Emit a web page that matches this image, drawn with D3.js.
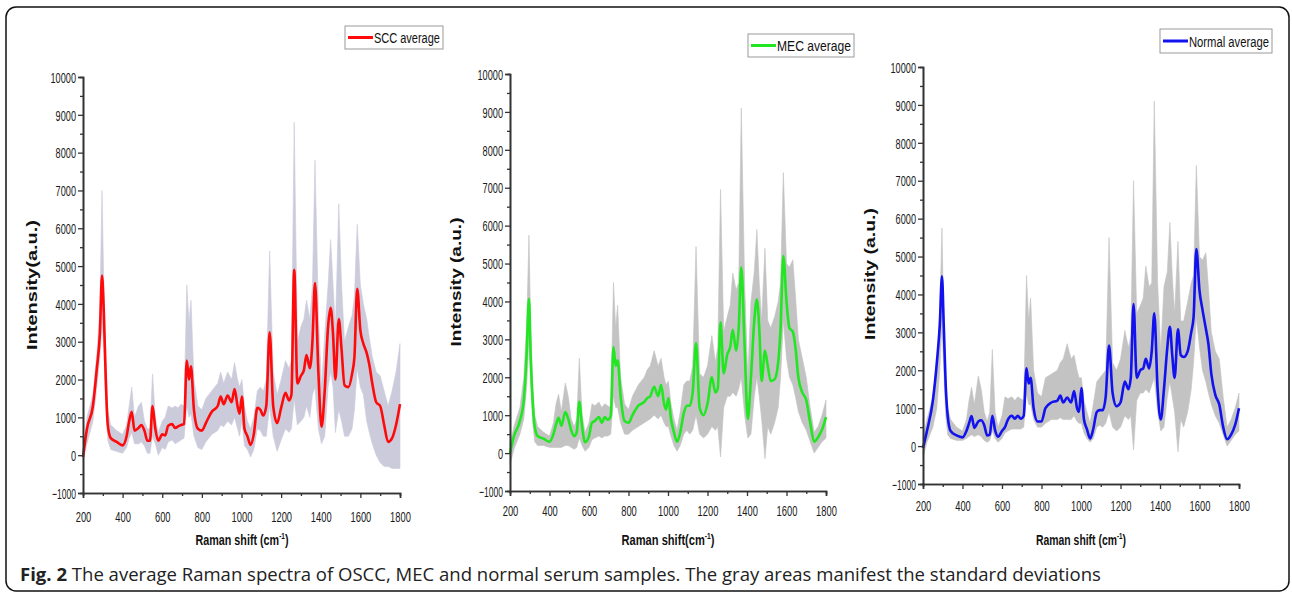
<!DOCTYPE html>
<html>
<head>
<meta charset="utf-8">
<script src="https://cdn.jsdelivr.net/npm/d3@7"></script>
<style>
    body { margin: 0; background: #fff; }
    svg { display: block; }
</style>
</head>
<body>
<svg id="figura" width="1292" height="594"></svg>
<script>
// ------------------DATA------------------
// Raman shift grid (cm-1) shared by the three spectra
var ramanShift = [
    200, 220, 250, 270, 285, 296, 305, 315, 325, 340, 370, 400, 420, 433,
    446, 460, 480, 495, 510, 525, 538, 551, 565, 580, 600, 615, 630, 650,
    665, 680, 695, 710, 724, 735, 745, 760, 780, 800, 820, 850, 880, 895,
    910, 930, 950, 965, 980, 990, 1002, 1015, 1030, 1046, 1062, 1080, 1095, 1110,
    1125, 1142, 1160, 1180, 1200, 1222, 1240, 1252, 1266, 1282, 1300, 1315, 1328, 1345,
    1358, 1371, 1388, 1404, 1420, 1437, 1450, 1462, 1474, 1491, 1505, 1520, 1540, 1558,
    1570, 1584, 1600, 1615, 1632, 1645, 1660, 1680, 1700, 1720, 1740, 1760, 1780, 1800
];

// SCC average and mean +/- standard deviation
var sccMean = [
    -50, 700, 1300, 2300, 3200, 4750, 3800, 2000, 800, 450, 350, 260, 500, 900,
    1150, 650, 720, 800, 650, 380, 380, 1300, 700, 380, 550, 520, 780, 820,
    720, 760, 800, 820, 2500, 2000, 2350, 1200, 700, 650, 850, 1150, 1300, 1550,
    1350, 1580, 1400, 1750, 1300, 1100, 1550, 700, 500, 270, 550, 1250, 1200, 1050,
    1300, 3250, 1300, 850, 1250, 1650, 1450, 1600, 4900, 1900, 2100, 2250, 2650, 2300,
    3000, 4550, 2200, 750, 1700, 3400, 3900, 3200, 2000, 3600, 2800, 1850, 1800, 2150,
    2600, 4400, 3300, 2950, 2700, 2400, 1900, 1400, 1300, 800, 350, 450, 800, 1350
];
var sccUpper = [
    100, 1000, 1600, 2700, 3800, 7000, 4500, 2600, 1200, 800, 650, 550, 800, 1300,
    1800, 1000, 1300, 1400, 900, 700, 700, 2150, 1000, 600, 900, 1000, 1300, 1250,
    1300, 1250, 1350, 1300, 4500, 3500, 4100, 2000, 1300, 1200, 1500, 1700, 1900, 2200,
    1900, 2200, 2000, 2450, 2000, 1800, 2000, 1300, 900, 700, 1000, 1700, 1800, 1700,
    2000, 5400, 2200, 1600, 2000, 2500, 2300, 2500, 8800, 3000, 3400, 3600, 4100, 3600,
    4500, 7800, 3800, 1800, 3200, 4500, 5700, 4500, 3300, 6650, 4500, 3000, 3400, 3700,
    4200, 6100, 4500, 4000, 3600, 3100, 2600, 2200, 2100, 1700, 1300, 1700, 2200, 2950
];
var sccLower = [
    -150, 300, 900, 1800, 2600, 3500, 2800, 1300, 400, 150, 100, 50, 200, 450,
    600, 300, 300, 350, 250, 50, 50, 500, 300, 0, 200, 150, 350, 400,
    300, 350, 400, 450, 1300, 1000, 1100, 500, 200, 150, 350, 550, 650, 800,
    750, 900, 800, 1000, 700, 500, 900, 250, 150, -50, 150, 700, 650, 500,
    500, 1300, 500, 100, 400, 700, 600, 700, 1500, 800, 900, 1000, 1300, 1000,
    1600, 1800, 700, 300, 500, 1800, 2200, 1800, 600, 1200, 900, 500, 500, 700,
    1200, 2300, 1800, 1600, 900, 600, 300, 0, -200, -300, -300, -350, -350, -350
];

// MEC average and mean +/- standard deviation
var mecMean = [
    0, 450, 850, 1400, 2700, 4070, 2500, 1350, 700, 450, 380, 300, 500, 750,
    930, 720, 1080, 900, 600, 450, 550, 1350, 700, 290, 450, 800, 850, 950,
    800, 950, 880, 980, 2800, 2300, 2450, 1500, 850, 800, 1000, 1250, 1350, 1450,
    1500, 1750, 1500, 1800, 1300, 1150, 1450, 900, 550, 300, 550, 1050, 1250, 1250,
    1600, 2900, 1200, 1000, 1300, 2000, 1600, 1700, 3450, 2100, 2600, 2800, 3250, 2700,
    3300, 4900, 2800, 900, 2000, 3500, 4050, 3300, 1900, 2700, 2300, 1900, 1950, 2400,
    3300, 5200, 4000, 3300, 3200, 2800, 2000, 1600, 1400, 800, 300, 420, 620, 950
];
var mecUpper = [
    250, 700, 1200, 2000, 3500, 5750, 3300, 1800, 1000, 700, 550, 450, 800, 1300,
    1550, 1100, 1850, 1500, 900, 700, 900, 2500, 1000, 550, 800, 1300, 1250, 1350,
    1200, 1300, 1250, 1200, 4500, 3300, 3900, 2000, 1300, 1150, 1500, 1800, 2000, 2200,
    2300, 2700, 2300, 2500, 2000, 1800, 1900, 1300, 900, 600, 1100, 1800, 1900, 1900,
    2300, 5450, 2100, 2000, 2300, 3100, 2400, 2800, 6950, 3200, 3600, 3900, 4750, 4300,
    4500, 9100, 4500, 2000, 4000, 4800, 5900, 4500, 3500, 5400, 3500, 3300, 3600, 4000,
    4500, 7400, 5000, 4900, 5100, 4200, 3000, 2500, 2000, 1200, 550, 700, 1000, 1400
];
var mecLower = [
    -300, 100, 500, 900, 1800, 3000, 1800, 800, 300, 200, 200, 150, 150, 150,
    150, 150, 200, 200, 150, 100, 150, 400, 200, 50, 150, 350, 400, 450,
    400, 450, 450, 500, 1500, 1200, 1200, 800, 500, 500, 600, 700, 800, 850,
    900, 1000, 900, 1000, 800, 700, 700, 450, 200, 50, 200, 500, 600, 500,
    600, 1000, 500, 400, 500, 700, 600, 700, -100, 1200, 1500, 1500, 1600, 1500,
    1700, 2000, 1000, 400, 500, 1500, 2000, 1500, 900, -150, 700, 500, 800, 1200,
    2000, 3500, 2500, 2000, 1800, 1500, 1100, 800, 600, 300, 0, 150, 300, 400
];

// Normal average and mean +/- standard deviation
var normalMean = [
    -50, 400, 1200, 2200, 3200, 4480, 3200, 1600, 800, 400, 280, 230, 400, 600,
    790, 480, 650, 680, 550, 280, 300, 800, 420, 250, 400, 500, 700, 800,
    720, 800, 720, 800, 2050, 1650, 1800, 1000, 650, 650, 1000, 1150, 1200, 1330,
    1150, 1280, 1150, 1450, 1000, 900, 1530, 700, 450, 200, 450, 900, 950, 950,
    1300, 2650, 1400, 1050, 1150, 1700, 1500, 1800, 3750, 1800, 2000, 2050, 2300, 2050,
    2500, 3500, 1500, 700, 1500, 2600, 3150, 2400, 1800, 3080, 2400, 2350, 2500, 3000,
    3400, 5200, 4100, 3600, 3100, 2700, 1900, 1350, 1100, 500, 180, 300, 550, 1000
];
var normalUpper = [
    250, 700, 1300, 2200, 3500, 5750, 3300, 1800, 1000, 700, 500, 400, 700, 1200,
    1550, 1100, 1850, 1500, 900, 650, 900, 2550, 900, 500, 800, 1300, 1250, 1300,
    1200, 1300, 1250, 1200, 4500, 3300, 3900, 2000, 1400, 1300, 1800, 1900, 2000, 2200,
    2300, 2700, 2300, 2400, 2000, 1800, 1800, 1200, 900, 600, 1100, 1700, 1800, 1900,
    2000, 5500, 2200, 2000, 2300, 3050, 2600, 2900, 7000, 3500, 3700, 3900, 4750, 4200,
    4300, 9100, 4300, 2500, 4200, 4600, 5900, 4500, 3500, 5400, 3300, 3300, 3800, 4300,
    4500, 7400, 5000, 4900, 5100, 4200, 3000, 2500, 2300, 1300, 500, 700, 1000, 1400
];
var normalLower = [
    -300, 100, 500, 1000, 2000, 3200, 2000, 800, 300, 200, 150, 150, 200, 250,
    300, 250, 300, 250, 150, 100, 150, 400, 200, 100, 200, 350, 400, 450,
    450, 450, 450, 500, 1400, 1100, 1100, 700, 500, 500, 600, 700, 700, 750,
    700, 700, 700, 800, 650, 600, 600, 350, 200, 100, 200, 500, 550, 500,
    600, 900, 500, 400, 500, 800, 700, 800, -100, 1200, 1400, 1400, 1500, 1400,
    1600, 1800, 900, 400, 500, 1300, 1700, 1300, 900, -150, 700, 500, 900, 1500,
    2200, 3400, 2600, 2000, 1700, 1400, 1100, 800, 600, 300, 0, 150, 300, 400
];

// axis ticks and texts
var yTicks = [-1000, 0, 1000, 2000, 3000, 4000, 5000, 6000, 7000, 8000, 9000, 10000];
var yMinorTicks = [-500, 500, 1500, 2500, 3500, 4500, 5500, 6500, 7500, 8500, 9500];
var xTicks = [200, 400, 600, 800, 1000, 1200, 1400, 1600, 1800];
var xMinorTicks = [300, 500, 700, 900, 1100, 1300, 1500, 1700];
var legendLabels = ["SCC average", "MEC average", "Normal average"];
var yTitles = ["Intensity(a.u.)", "Intensity (a.u.)", "Intensity (a.u.)"];
var xTitles = ["Raman shift (cm", "Raman shift(cm", "Raman shift (cm"];
var captionBold = "Fig. 2";
var captionText = " The average Raman spectra of OSCC, MEC and normal serum samples. The gray areas manifest the standard deviations";

// ------------------LAYOUT------------------
var panells = [
    { mean: sccMean, upper: sccUpper, lower: sccLower, color: "#ff0a0a", band: "#cbcbdc",
      left: 83, right: 400, top: 77, bottom: 493, tickY: 29,
      yTitleX: 37, yTitleY: 285, yTitleW: 130, xTitleX: 242, xTitleW: 93,
      legend: { x: 345, y: 26, w: 98, h: 23 } },
    { mean: mecMean, upper: mecUpper, lower: mecLower, color: "#22e622", band: "#c3c3c3",
      left: 510, right: 826, top: 74, bottom: 491, tickY: 25,
      yTitleX: 461, yTitleY: 282, yTitleW: 129, xTitleX: 668, xTitleW: 93,
      legend: { x: 748, y: 34, w: 106, h: 23 } },
    { mean: normalMean, upper: normalUpper, lower: normalLower, color: "#1212ee", band: "#c3c3c3",
      left: 923, right: 1239, top: 67, bottom: 484, tickY: 27,
      yTitleX: 875, yTitleY: 274, yTitleW: 132, xTitleX: 1081, xTitleW: 90,
      legend: { x: 1160, y: 29, w: 112, h: 24 } }
];

var fontNarrow = "'Liberation Sans Narrow', 'Liberation Sans', Arial, sans-serif";
var fontBold = "'Liberation Sans', Arial, sans-serif";
var colorEix = "#333";

var svg = d3.select("#figura");

// ------------------FUNCTIONS------------------
// squeeze a text horizontally to a given width (narrow fonts in the original)
function estrenyer(sel, amplada) {
    sel.attr("textLength", amplada).attr("lengthAdjust", "spacingAndGlyphs");
}

// same idea, but with a scale on the group (for texts with tspans)
function escalarGrup(g, text, x, y, amplada, ancora) {
    var w = text.node().getBBox().width;
    g.attr("transform", "translate(" + x + "," + y + ") scale(" + (amplada / w) + ",1)");
}

// frame around the whole figure
function dibuixarMarc() {
    svg.append("rect")
        .attr("x", 6).attr("y", 7)
        .attr("width", 1283).attr("height", 584)
        .attr("rx", 10).attr("ry", 10)
        .style("fill", "none")
        .style("stroke", "#111")
        .style("stroke-width", 1.5);
}

function estilEix(sel) {
    sel.select(".domain").style("stroke", colorEix).style("stroke-width", 1.6);
    sel.selectAll(".tick line").style("stroke", colorEix).style("stroke-width", 1.3);
    sel.selectAll(".tick text").style("fill", "#1a1a1a");
}

// one panel: band, mean line, axes, titles and legend
function dibuixarPanell(p, i) {
    var x = d3.scaleLinear().domain([200, 1800]).range([p.left, p.right]);
    var y = d3.scaleLinear().domain([-1000, 10000]).range([p.bottom, p.top]);
    var g = svg.append("g");

    var punts = ramanShift.map(function (s, k) {
        return { s: s, m: p.mean[k], u: p.upper[k], l: p.lower[k] };
    });

    // standard deviation band
    var area = d3.area()
        .x(function (d) { return x(d.s); })
        .y0(function (d) { return y(d.l); })
        .y1(function (d) { return y(d.u); });
    g.append("path")
        .datum(punts)
        .attr("d", area)
        .style("fill", p.band)
        .style("stroke", p.band)
        .style("stroke-width", 0.6);

    // average spectrum
    var linia = d3.line()
        .x(function (d) { return x(d.s); })
        .y(function (d) { return y(d.m); })
        .curve(d3.curveMonotoneX);
    g.append("path")
        .datum(punts)
        .attr("d", linia)
        .style("fill", "none")
        .style("stroke", p.color)
        .style("stroke-width", 2.6)
        .style("stroke-linejoin", "round");

    // minor ticks
    g.append("g")
        .attr("transform", "translate(" + p.left + ",0)")
        .call(d3.axisLeft(y).tickValues(yMinorTicks).tickSize(3).tickFormat(""))
        .call(estilEix);
    g.append("g")
        .attr("transform", "translate(0," + p.bottom + ")")
        .call(d3.axisBottom(x).tickValues(xMinorTicks).tickSize(3).tickFormat(""))
        .call(estilEix);

    // major ticks and labels
    var eixY = g.append("g")
        .attr("transform", "translate(" + p.left + ",0)")
        .call(d3.axisLeft(y).tickValues(yTicks).tickSize(5).tickPadding(2).tickFormat(d3.format("d")))
        .call(estilEix);
    eixY.selectAll("text")
        .attr("dy", "0.36em")
        .style("font-family", fontNarrow)
        .style("font-size", "14.5px")
        .each(function (d) {
            var t = String(d);
            d3.select(this).call(estrenyer, t.length * 5.1 - (d < 0 ? 1.5 : 0));
        });

    var eixX = g.append("g")
        .attr("transform", "translate(0," + p.bottom + ")")
        .call(d3.axisBottom(x).tickValues(xTicks).tickSize(5).tickFormat(d3.format("d")))
        .call(estilEix);
    eixX.selectAll("text")
        .attr("y", p.tickY)
        .attr("dy", 0)
        .style("font-family", fontNarrow)
        .style("font-size", "15px")
        .each(function (d) {
            d3.select(this).call(estrenyer, String(d).length * 5.2);
        });

    // y title
    g.append("text")
        .attr("transform", "translate(" + p.yTitleX + "," + p.yTitleY + ") rotate(-90)")
        .attr("text-anchor", "middle")
        .style("font-family", fontBold)
        .style("font-weight", "bold")
        .style("font-size", "14.5px")
        .style("fill", "#111")
        .text(yTitles[i])
        .call(estrenyer, p.yTitleW);

    // x title with superscript
    var gx = g.append("g");
    var tx = gx.append("text")
        .attr("text-anchor", "middle")
        .style("font-family", fontBold)
        .style("font-weight", "bold")
        .style("font-size", "15px")
        .style("fill", "#111");
    tx.append("tspan").text(xTitles[i]);
    tx.append("tspan").attr("dy", -6).style("font-size", "9px").text("-1");
    tx.append("tspan").attr("dy", 6).text(")");
    escalarGrup(gx, tx, p.xTitleX, 545, p.xTitleW);

    // legend
    var lg = g.append("g").attr("transform", "translate(" + p.legend.x + "," + p.legend.y + ")");
    lg.append("rect")
        .attr("width", p.legend.w).attr("height", p.legend.h)
        .style("fill", "#fff")
        .style("stroke", "#999")
        .style("stroke-width", 1);
    lg.append("line")
        .attr("x1", 3).attr("x2", 28)
        .attr("y1", p.legend.h / 2).attr("y2", p.legend.h / 2)
        .style("stroke", p.color)
        .style("stroke-width", 3);
    var gt = lg.append("g");
    var tl = gt.append("text")
        .style("font-family", fontNarrow)
        .style("font-size", "15px")
        .style("fill", "#111")
        .text(legendLabels[i]);
    escalarGrup(gt, tl, 29, p.legend.h / 2 + 5.5, p.legend.w - 32);
}

// caption under the panels
function dibuixarPeu() {
    var t = svg.append("text")
        .attr("x", 20)
        .attr("y", 581)
        .style("font-family", "'Open Sans', sans-serif")
        .style("font-size", "18px")
        .style("fill", "#222");
    t.append("tspan").style("font-weight", "bold").text(captionBold);
    t.append("tspan").text(captionText);
    // fit the caption to the width it takes in the original
    var w = t.node().getBBox().width;
    t.style("font-size", (18 * 1082 / w).toFixed(2) + "px");
}

// ------------------MAIN------------------
dibuixarMarc();
panells.forEach(dibuixarPanell);
dibuixarPeu();
</script>
</body>
</html>
